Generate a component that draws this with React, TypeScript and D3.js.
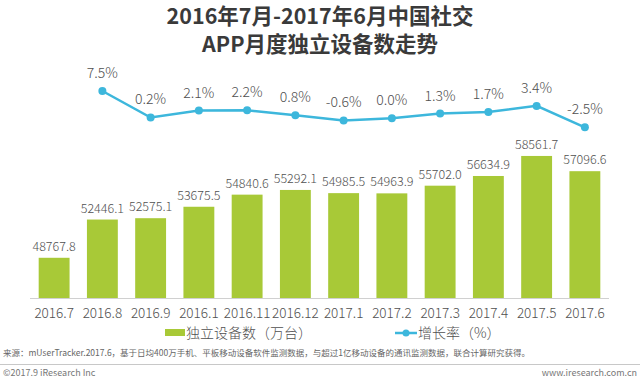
import React from "react";
import * as d3 from "d3";

const months = ["2016.7","2016.8","2016.9","2016.1","2016.11","2016.12","2017.1","2017.2","2017.3","2017.4","2017.5","2017.6"];
const devices = [48767.8,52446.1,52575.1,53675.5,54840.6,55292.1,54985.5,54963.9,55702.0,56634.9,58561.7,57096.6];
const growth: (number | null)[] = [null,7.5,0.2,2.1,2.2,0.8,-0.6,0.0,1.3,1.7,3.4,-2.5];
const titleLines = ["2016年7月-2017年6月中国社交","APP月度独立设备数走势"];
const legendBar = "独立设备数（万台）";
const legendLine = "增长率（%）";
const sourceText = "来源：mUserTracker.2017.6，基于日均400万手机、平板移动设备软件监测数据，与超过1亿移动设备的通讯监测数据，联合计算研究获得。";
const copyright = "©2017.9 iResearch Inc";
const website = "www.iresearch.com.cn";

const W = 640, H = 379;
const BAR = "#a8c937";
const LINE = "#3db7dc";
const TXT = "#505050";
const FONT = "'Noto Sans CJK SC', 'Noto Sans', sans-serif";

export default function App() {
  const x = d3.scaleBand<string>().domain(months).range([30, 609]).paddingInner(0.36).paddingOuter(0.18);
  const y = d3.scaleLinear().domain([44900, 60000]).range([298, 141]);
  const yL = d3.scaleLinear().domain([-2.5, 7.5]).range([127.3, 91]);
  const pts = months.map((m, i) => ({ m, v: growth[i] })).filter(d => d.v !== null) as { m: string; v: number }[];
  const cx = (m: string) => (x(m) as number) + x.bandwidth() / 2;
  const line = d3.line<{ m: string; v: number }>().x(d => cx(d.m)).y(d => yL(d.v));

  return (
    <svg width={W} height={H} style={{ position: "absolute", left: 0, top: 0, background: "#fff" }} fontFamily={FONT}>
      <rect width={W} height={H} fill="#fff" />
      {titleLines.map((t, i) => (
        <text key={i} x={320} y={24 + i * 28} textAnchor="middle" fontSize={21.5} fontWeight="bold" fill="#3a3a3a">{t}</text>
      ))}
      {months.map((m, i) => (
        <g key={m}>
          <rect x={x(m)} y={y(devices[i])} width={x.bandwidth()} height={298 - y(devices[i])} fill={BAR} />
          <text x={cx(m)} y={y(devices[i]) - 7} textAnchor="middle" fontSize={12.5} fontWeight={300} fill={TXT}>{devices[i].toFixed(1)}</text>
          <text x={cx(m)} y={318} textAnchor="middle" fontSize={13.5} fontWeight={300} fill={TXT}>{m}</text>
        </g>
      ))}
      <line x1={30} x2={609} y1={298.5} y2={298.5} stroke="#d0d0d0" strokeWidth={1} />
      <path d={line(pts) || ""} fill="none" stroke={LINE} strokeWidth={2.5} />
      {pts.map(d => (
        <g key={d.m}>
          <circle cx={cx(d.m)} cy={yL(d.v)} r={4} fill={LINE} />
          <text x={cx(d.m)} y={yL(d.v) - 13} textAnchor="middle" fontSize={14} fontWeight={300} fill={TXT}>{d.v.toFixed(1) + "%"}</text>
        </g>
      ))}
      <rect x={165} y={329} width={20} height={7} fill={BAR} />
      <text x={186} y={338} fontSize={14} fontWeight={300} fill={TXT}>{legendBar}</text>
      <line x1={395} x2={417} y1={333} y2={333} stroke={LINE} strokeWidth={2.5} />
      <circle cx={406} cy={333} r={3.5} fill={LINE} />
      <text x={418} y={338} fontSize={14} fontWeight={300} fill={TXT}>{legendLine}</text>
      <text x={3} y={356} fontSize={8.5} fill="#666">{sourceText}</text>
      <line x1={0} x2={640} y1={364.5} y2={364.5} stroke="#c8c8c8" strokeWidth={1} />
      <text x={3} y={376} fontSize={9} fill="#777">{copyright}</text>
      <text x={637} y={376} textAnchor="end" fontSize={9} fill="#777">{website}</text>
    </svg>
  );
}
